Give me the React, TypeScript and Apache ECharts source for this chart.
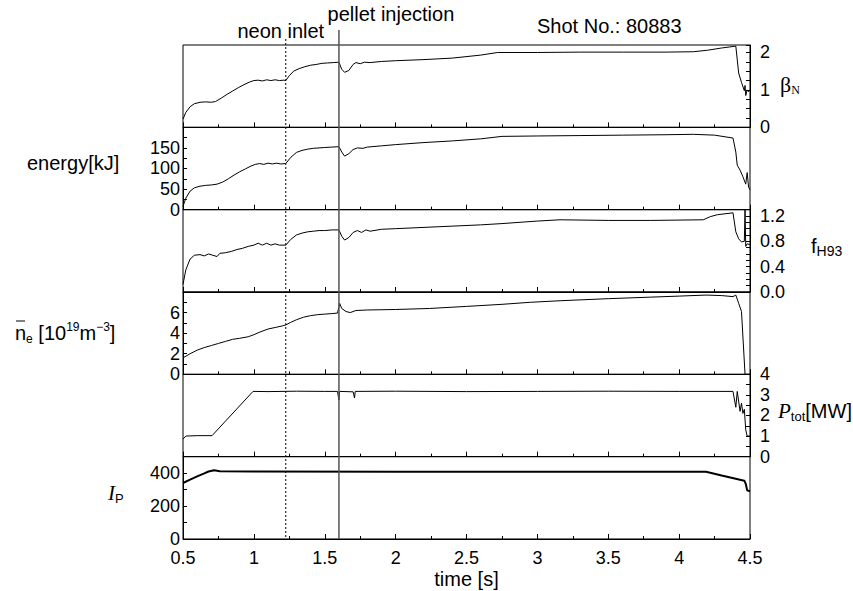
import React, { useEffect, useRef } from 'react';
import * as echarts from 'echarts';

type Pt = [number, number];

const timeMin = 0.5;
const timeMax = 4.5;
const neonTime = 1.225;
const pelletTime = 1.6;

const betaN: Pt[] = [[0.50,0.22],[0.52,0.40],[0.55,0.55],[0.58,0.63],[0.62,0.67],[0.66,0.68],[0.70,0.67],[0.73,0.69],[0.77,0.78],[0.81,0.88],[0.85,0.97],[0.89,1.06],[0.93,1.14],[0.97,1.21],[1.00,1.25],[1.03,1.26],[1.06,1.24],[1.09,1.27],[1.12,1.25],[1.15,1.27],[1.18,1.25],[1.21,1.26],[1.225,1.25],[1.25,1.38],[1.28,1.50],[1.32,1.57],[1.36,1.62],[1.40,1.66],[1.44,1.68],[1.48,1.71],[1.52,1.72],[1.56,1.73],[1.60,1.74],[1.62,1.55],[1.64,1.47],[1.67,1.52],[1.70,1.68],[1.72,1.73],[1.75,1.70],[1.78,1.74],[1.82,1.73],[1.90,1.76],[2.0,1.78],[2.2,1.81],[2.4,1.85],[2.6,1.93],[2.72,2.00],[3.0,2.00],[3.3,2.01],[3.6,2.01],[3.9,2.01],[4.1,2.02],[4.2,2.06],[4.3,2.12],[4.38,2.16],[4.40,2.17],[4.42,1.45],[4.44,1.20],[4.46,0.98],[4.465,1.12],[4.47,0.85],[4.48,1.0],[4.49,0.95],[4.5,1.0]];

const energy: Pt[] = [[0.50,8],[0.52,28],[0.55,45],[0.58,53],[0.62,57],[0.66,59],[0.70,60],[0.74,62],[0.78,67],[0.82,75],[0.86,84],[0.90,92],[0.94,99],[0.98,106],[1.01,110],[1.04,112],[1.07,110],[1.10,113],[1.13,111],[1.16,113],[1.19,111],[1.225,112],[1.26,127],[1.30,139],[1.34,144],[1.38,147],[1.42,149],[1.46,150],[1.50,151],[1.55,152],[1.60,153],[1.62,140],[1.64,130],[1.67,136],[1.70,146],[1.73,150],[1.77,149],[1.80,152],[1.90,155],[2.0,158],[2.2,163],[2.4,167],[2.6,172],[2.75,178],[3.0,179],[3.3,180],[3.6,181],[3.9,182],[4.1,183],[4.25,181],[4.38,174],[4.40,140],[4.41,108],[4.43,96],[4.45,80],[4.47,62],[4.48,90],[4.49,55],[4.5,48]];

const fH93: Pt[] = [[0.50,0.12],[0.52,0.35],[0.55,0.52],[0.58,0.58],[0.62,0.59],[0.65,0.57],[0.68,0.60],[0.71,0.58],[0.74,0.56],[0.76,0.61],[0.80,0.62],[0.84,0.64],[0.88,0.67],[0.92,0.69],[0.96,0.72],[1.00,0.74],[1.03,0.77],[1.06,0.74],[1.09,0.77],[1.12,0.74],[1.15,0.76],[1.18,0.74],[1.225,0.74],[1.26,0.83],[1.30,0.90],[1.34,0.93],[1.38,0.95],[1.42,0.96],[1.46,0.97],[1.50,0.97],[1.55,0.98],[1.60,0.98],[1.62,0.88],[1.64,0.82],[1.67,0.86],[1.70,0.94],[1.73,0.97],[1.76,0.94],[1.79,0.98],[1.82,0.96],[1.90,0.99],[2.0,1.00],[2.3,1.03],[2.6,1.06],[2.75,1.08],[3.0,1.12],[3.16,1.14],[3.5,1.13],[3.8,1.13],[4.17,1.14],[4.22,1.19],[4.27,1.22],[4.38,1.25],[4.40,0.95],[4.42,0.84],[4.44,0.79],[4.46,0.80],[4.465,1.3],[4.47,0.72],[4.48,0.76],[4.5,0.75]];

const ne: Pt[] = [[0.50,1.6],[0.55,2.0],[0.60,2.35],[0.65,2.6],[0.70,2.8],[0.75,3.0],[0.80,3.2],[0.85,3.4],[0.90,3.5],[0.96,3.65],[1.00,3.85],[1.05,4.15],[1.10,4.4],[1.15,4.55],[1.20,4.7],[1.225,4.8],[1.26,5.05],[1.30,5.3],[1.35,5.55],[1.40,5.7],[1.45,5.8],[1.50,5.85],[1.55,5.9],[1.59,5.95],[1.605,6.9],[1.62,6.4],[1.65,6.1],[1.68,6.0],[1.72,6.2],[1.8,6.25],[2.0,6.3],[2.24,6.4],[2.5,6.6],[2.75,6.8],[2.95,7.0],[3.16,7.15],[3.5,7.35],[3.8,7.5],[4.0,7.6],[4.19,7.7],[4.3,7.65],[4.38,7.55],[4.40,7.7],[4.42,6.9],[4.44,6.1],[4.465,0.0],[4.5,0.0]];

const ptot: Pt[] = [[0.50,0.85],[0.52,1.0],[0.60,1.02],[0.705,1.02],[0.994,3.17],[1.1,3.16],[1.3,3.18],[1.5,3.17],[1.59,3.17],[1.60,2.75],[1.605,3.17],[1.70,3.15],[1.71,2.85],[1.715,3.17],[2.0,3.18],[2.5,3.16],[3.0,3.17],[3.5,3.18],[4.0,3.17],[4.38,3.17],[4.40,2.4],[4.41,3.17],[4.43,2.2],[4.44,2.6],[4.45,2.1],[4.46,2.3],[4.47,1.3],[4.48,1.0],[4.5,1.0]];

const ip: Pt[] = [[0.50,340],[0.55,360],[0.60,380],[0.65,398],[0.68,410],[0.72,418],[0.76,412],[1.0,410],[2.0,409],[3.0,409],[4.0,409],[4.19,408],[4.3,385],[4.46,354],[4.47,335],[4.48,295],[4.5,290]];

const betaLabels = [0, 1, 2];
const energyLabels = [0, 50, 100, 150];
const fLabels = [0, 0.4, 0.8, 1.2];
const neLabels = [0, 2, 4, 6];
const ptotLabels = [0, 1, 2, 3, 4];
const ipLabels = [0, 200, 400];

const SANS = '"Liberation Sans", Arial, sans-serif';
const SERIF = '"Liberation Serif", "Times New Roman", serif';

export default function App() {
  const ref = useRef<HTMLDivElement>(null);
  useEffect(() => {
    const chart = echarts.init(ref.current!, null, { renderer: 'svg' });
    const left = 183;
    const right = 853 - 750;
    const top0 = 45;
    const ph = 82.33;

    const panels = [
      { data: betaN, side: 'right', max: 2.2, interval: 0.25, labels: betaLabels, digits: 0, width: 1 },
      { data: energy, side: 'left', max: 200, interval: 25, labels: energyLabels, digits: 0, width: 1 },
      { data: fH93, side: 'right', max: 1.3, interval: 0.1, labels: fLabels, digits: 1, width: 1 },
      { data: ne, side: 'left', max: 8, interval: 1, labels: neLabels, digits: 0, width: 1 },
      { data: ptot, side: 'right', max: 4, interval: 0.5, labels: ptotLabels, digits: 0, width: 1 },
      { data: ip, side: 'left', max: 500, interval: 100, labels: ipLabels, digits: 0, width: 2 },
    ];
    const n = panels.length;

    const grid = panels.map((_, i) => ({
      left,
      right,
      top: top0 + i * ph,
      height: ph,
      show: true,
      borderColor: '#000',
      borderWidth: 1,
      backgroundColor: 'transparent',
    }));

    const xAxis = panels.map((_, i) => ({
      type: 'value',
      gridIndex: i,
      min: timeMin,
      max: timeMax,
      interval: 0.5,
      axisLine: { show: true, lineStyle: { color: '#000', width: 1 } },
      axisTick: { show: true, inside: true, length: 5, lineStyle: { color: '#000' } },
      minorTick: { show: true, splitNumber: 2, length: 3, lineStyle: { color: '#000' } },
      splitLine: { show: false },
      axisLabel: {
        show: i === n - 1,
        fontSize: 18,
        fontFamily: SANS,
        color: '#000',
        margin: 10,
        formatter: (v: number) => String(v),
      },
      name: i === n - 1 ? 'time [s]' : '',
      nameLocation: 'middle',
      nameGap: 30,
      nameTextStyle: { fontSize: 20, fontFamily: SANS, color: '#000' },
    }));

    const yAxis = panels.map((p, i) => ({
      type: 'value',
      gridIndex: i,
      min: 0,
      max: p.max,
      interval: p.interval,
      position: p.side,
      axisLine: { show: true, lineStyle: { color: '#000', width: 1 } },
      axisTick: { show: true, inside: true, length: 4, lineStyle: { color: '#000' } },
      splitLine: { show: false },
      axisLabel: {
        fontSize: 18,
        fontFamily: SANS,
        color: '#000',
        margin: p.side === 'left' ? 3 : 10,
        formatter: (v: number) => {
          const hit = p.labels.find((l) => Math.abs(l - v) < 1e-6);
          return hit === undefined ? '' : hit.toFixed(p.digits);
        },
      },
    }));

    const series = panels.map((p, i) => ({
      type: 'line',
      xAxisIndex: i,
      yAxisIndex: i,
      data: p.data,
      showSymbol: false,
      symbol: 'none',
      lineStyle: { color: '#000', width: p.width },
      z: 5,
    }));

    chart.setOption({
      animation: false,
      backgroundColor: '#fff',
      grid,
      xAxis,
      yAxis,
      series,
    });

    const xNeon = chart.convertToPixel({ xAxisIndex: 0 }, neonTime) as number;
    const xPellet = chart.convertToPixel({ xAxisIndex: 0 }, pelletTime) as number;
    const yBottom = chart.convertToPixel({ yAxisIndex: n - 1 }, 0) as number;

    const txt = (text: string, x: number, y: number, align: string, extra: any = {}) => ({
      type: 'text',
      x,
      y,
      z: 20,
      style: {
        text,
        fontSize: 20,
        fontFamily: SANS,
        fill: '#000',
        align,
        verticalAlign: 'middle',
        ...extra,
      },
    });

    chart.setOption({
      graphic: [
        {
          type: 'line',
          z: 15,
          shape: { x1: xNeon, y1: 39, x2: xNeon, y2: yBottom },
          style: { stroke: '#000', lineWidth: 1, lineDash: [2, 2] },
        },
        {
          type: 'line',
          z: 15,
          shape: { x1: xPellet, y1: 30, x2: xPellet, y2: yBottom },
          style: { stroke: '#555', lineWidth: 1.5 },
        },
        txt('neon inlet', xNeon - 5, 31, 'center'),
        txt('pellet injection', xPellet + 52, 14, 'center'),
        txt('Shot No.: 80883', 537, 26, 'left'),
        txt('energy[kJ]', 27, 163, 'left'),
        txt('{n|n}{s|e}{m| [10}{u|19}{m|m}{u|−3}{m|]}', 15, 333, 'left', {
          rich: {
            n: { fontSize: 20, fontFamily: SANS, lineHeight: 24 },
            m: { fontSize: 20, fontFamily: SANS, lineHeight: 24 },
            s: { fontSize: 12, fontFamily: SANS, lineHeight: 12, verticalAlign: 'bottom' },
            u: { fontSize: 12, fontFamily: SANS, lineHeight: 12, verticalAlign: 'top' },
          },
        }),
        {
          type: 'line',
          z: 20,
          shape: { x1: 16, y1: 321, x2: 25, y2: 321 },
          style: { stroke: '#000', lineWidth: 1 },
        },
        txt('{i|I}{s|P}', 108, 493, 'left', {
          rich: {
            i: { fontSize: 21, fontFamily: SERIF, fontStyle: 'italic', lineHeight: 24 },
            s: { fontSize: 13, fontFamily: SANS, lineHeight: 13, verticalAlign: 'bottom' },
          },
        }),
        txt('{b|β}{s|N}', 780, 84, 'left', {
          rich: {
            b: { fontSize: 22, fontFamily: SERIF, lineHeight: 24 },
            s: { fontSize: 12, fontFamily: SERIF, lineHeight: 12, verticalAlign: 'bottom' },
          },
        }),
        txt('{f|f}{s|H93}', 811, 246, 'left', {
          rich: {
            f: { fontSize: 20, fontFamily: SANS, lineHeight: 24 },
            s: { fontSize: 14, fontFamily: SANS, lineHeight: 14, verticalAlign: 'bottom' },
          },
        }),
        txt('{p|P}{s|tot}{m|[MW]}', 778, 411, 'left', {
          rich: {
            p: { fontSize: 21, fontFamily: SERIF, fontStyle: 'italic', lineHeight: 24 },
            s: { fontSize: 13, fontFamily: SANS, lineHeight: 13, verticalAlign: 'bottom' },
            m: { fontSize: 20, fontFamily: SANS, lineHeight: 24 },
          },
        }),
      ],
    });

    return () => chart.dispose();
  }, []);

  return (
    <div
      ref={ref}
      style={{ position: 'fixed', left: 0, top: 0, width: 853, height: 591, background: '#fff' }}
    />
  );
}
